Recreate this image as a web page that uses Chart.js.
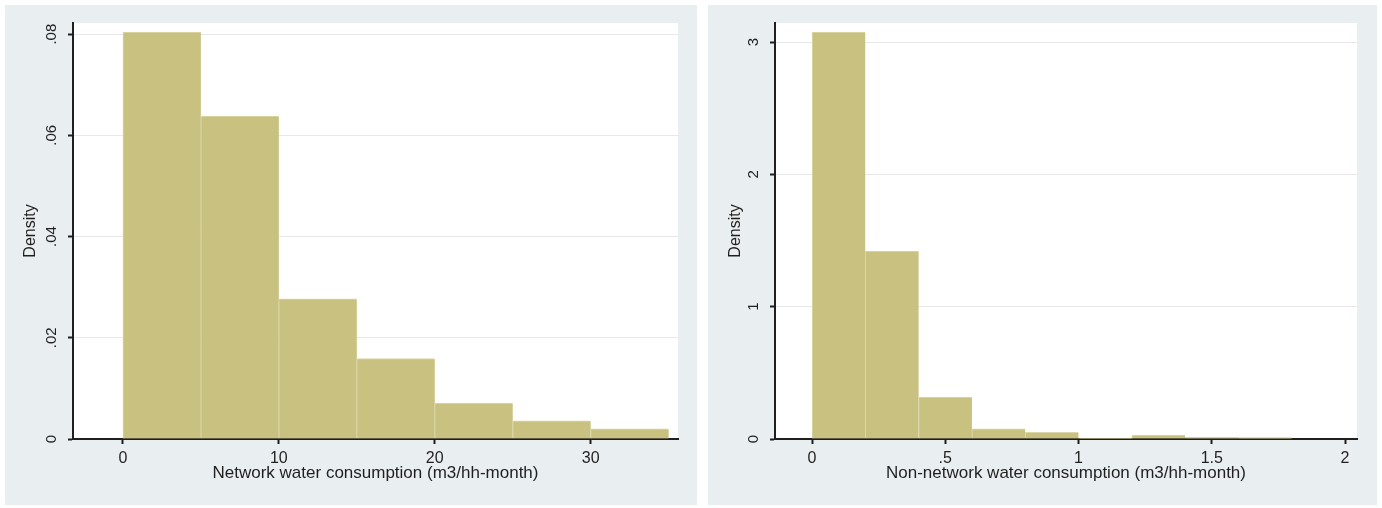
<!DOCTYPE html>
<html>
<head>
<meta charset="utf-8">
<script src="https://cdn.jsdelivr.net/npm/chart.js@4.4.1/dist/chart.umd.min.js"></script>
<style>
  html, body { margin: 0; padding: 0; background: #ffffff; }
  body { width: 1382px; height: 508px; position: relative; overflow: hidden; }
  .panel { position: absolute; top: 5px; height: 500px; background: #e9eef1; }
  #p1 { left: 5px; width: 692px; }
  #p2 { left: 708px; width: 669px; }
  canvas { display: block; }
</style>
</head>
<body>
<div class="panel" id="p1"><canvas id="c1"></canvas></div>
<div class="panel" id="p2"><canvas id="c2"></canvas></div>
<script>
// Network water consumption, density per 5 m3 bin
const netBinStart = [0, 5, 10, 15, 20, 25, 30];
const netBinWidth = 5;
const netDensity = [0.0804, 0.0638, 0.0277, 0.0159, 0.0071, 0.0036, 0.0020];
const netXTicks = [0, 10, 20, 30];
const netXLabels = ['0', '10', '20', '30'];
const netYTicks = [0, 0.02, 0.04, 0.06, 0.08];
const netYLabels = ['0', '.02', '.04', '.06', '.08'];

// Non-network water consumption, density per 0.2 m3 bin
const nonBinStart = [0, 0.2, 0.4, 0.6, 0.8, 1.0, 1.2, 1.4, 1.6];
const nonBinWidth = 0.2;
const nonDensity = [3.076, 1.42, 0.317, 0.076, 0.05, 0.006, 0.03, 0.012, 0.010];
const nonXTicks = [0, 0.5, 1, 1.5, 2];
const nonXLabels = ['0', '.5', '1', '1.5', '2'];
const nonYTicks = [0, 1, 2, 3];
const nonYLabels = ['0', '1', '2', '3'];

const FONT = "'Liberation Sans', Arial, sans-serif";
const INK = '#1f1f1f';
const BAR = '#c9c17f';
const BAR_EDGE = '#dcd7a9';
const GRID = '#e6e8ea';

// white plot region behind the bars
const plotBackground = {
  id: 'plotBackground',
  beforeDraw(chart) {
    const { ctx, chartArea: a } = chart;
    ctx.save();
    ctx.fillStyle = '#ffffff';
    ctx.fillRect(a.left, a.top, a.right - a.left, a.bottom - a.top);
    ctx.restore();
  }
};

// vertical y tick labels, reading bottom to top, centred on their ticks
const verticalYLabels = {
  id: 'verticalYLabels',
  afterDraw(chart, args, opts) {
    const { ctx, chartArea: a } = chart;
    const y = chart.scales.y;
    ctx.save();
    ctx.fillStyle = INK;
    ctx.font = opts.size + 'px ' + FONT;
    ctx.textAlign = 'center';
    ctx.textBaseline = 'middle';
    opts.values.forEach((v, i) => {
      const py = y.getPixelForValue(v);
      ctx.save();
      ctx.translate(a.left - opts.gap, py);
      ctx.rotate(-Math.PI / 2);
      ctx.fillText(opts.labels[i], 0, 0);
      ctx.restore();
    });
    ctx.restore();
  }
};

function histogram(id, cfg) {
  const points = cfg.binStart.map((s, i) => ({ x: s + cfg.binWidth / 2, y: cfg.density[i] }));
  return new Chart(document.getElementById(id), {
    type: 'bar',
    data: {
      datasets: [{
        data: points,
        backgroundColor: BAR,
        borderColor: BAR_EDGE,
        borderWidth: { left: 1, top: 1, right: 0, bottom: 0 },
        borderSkipped: false,
        barPercentage: 1,
        categoryPercentage: 1,
        grouped: false
      }]
    },
    plugins: [plotBackground, verticalYLabels],
    options: {
      responsive: true,
      maintainAspectRatio: false,
      animation: false,
      events: [],
      layout: { padding: { left: 0, top: 18, right: cfg.padRight, bottom: 0 } },
      plugins: {
        legend: { display: false },
        tooltip: { enabled: false },
        verticalYLabels: { values: cfg.yTicks, labels: cfg.yLabels, gap: 21, size: 15 }
      },
      scales: {
        x: {
          type: 'linear',
          position: 'bottom',
          offset: false,
          min: cfg.xMin,
          max: cfg.xMax,
          afterBuildTicks: s => { s.ticks = cfg.xTicks.map(v => ({ value: v })); },
          afterFit: s => { s.height = 66; },
          grid: { offset: false, drawOnChartArea: false, drawTicks: true, tickLength: 5, tickColor: INK, tickWidth: 2 },
          border: { display: true, color: INK, width: 2 },
          ticks: {
            autoSkip: false, maxRotation: 0, minRotation: 0, padding: 5,
            color: INK, font: { family: FONT, size: 16 },
            callback: (v, i) => cfg.xLabels[i]
          },
          title: {
            display: true, text: cfg.xTitle, color: INK,
            font: { family: FONT, size: 17 },
            padding: { top: 0, bottom: 21 }
          }
        },
        y: {
          type: 'linear',
          position: 'left',
          min: 0,
          max: cfg.yMax,
          afterBuildTicks: s => { s.ticks = cfg.yTicks.map(v => ({ value: v })); },
          afterFit: s => { s.width = cfg.yWidth; },
          grid: {
            color: c => (c.tick && c.tick.value === 0) ? 'rgba(0,0,0,0)' : GRID,
            lineWidth: 1,
            drawTicks: true, tickLength: 5, tickColor: INK, tickWidth: 2
          },
          border: { display: true, color: INK, width: 2 },
          ticks: { display: false },
          title: {
            display: true, text: 'Density', color: INK,
            font: { family: FONT, size: 16 },
            padding: { top: cfg.yTitlePad, bottom: 0 }
          }
        }
      }
    }
  });
}

histogram('c1', {
  binStart: netBinStart, binWidth: netBinWidth, density: netDensity,
  xTicks: netXTicks, xLabels: netXLabels, yTicks: netYTicks, yLabels: netYLabels,
  xMin: -3.2, xMax: 35.6, yMax: 0.0822,
  xTitle: 'Network water consumption (m3/hh-month)',
  padRight: 19, yWidth: 68, yTitlePad: 16
});

histogram('c2', {
  binStart: nonBinStart, binWidth: nonBinWidth, density: nonDensity,
  xTicks: nonXTicks, xLabels: nonXLabels, yTicks: nonYTicks, yLabels: nonYLabels,
  xMin: -0.139, xMax: 2.045, yMax: 3.144,
  xTitle: 'Non-network water consumption (m3/hh-month)',
  padRight: 20, yWidth: 67, yTitlePad: 18
});
</script>
</body>
</html>
